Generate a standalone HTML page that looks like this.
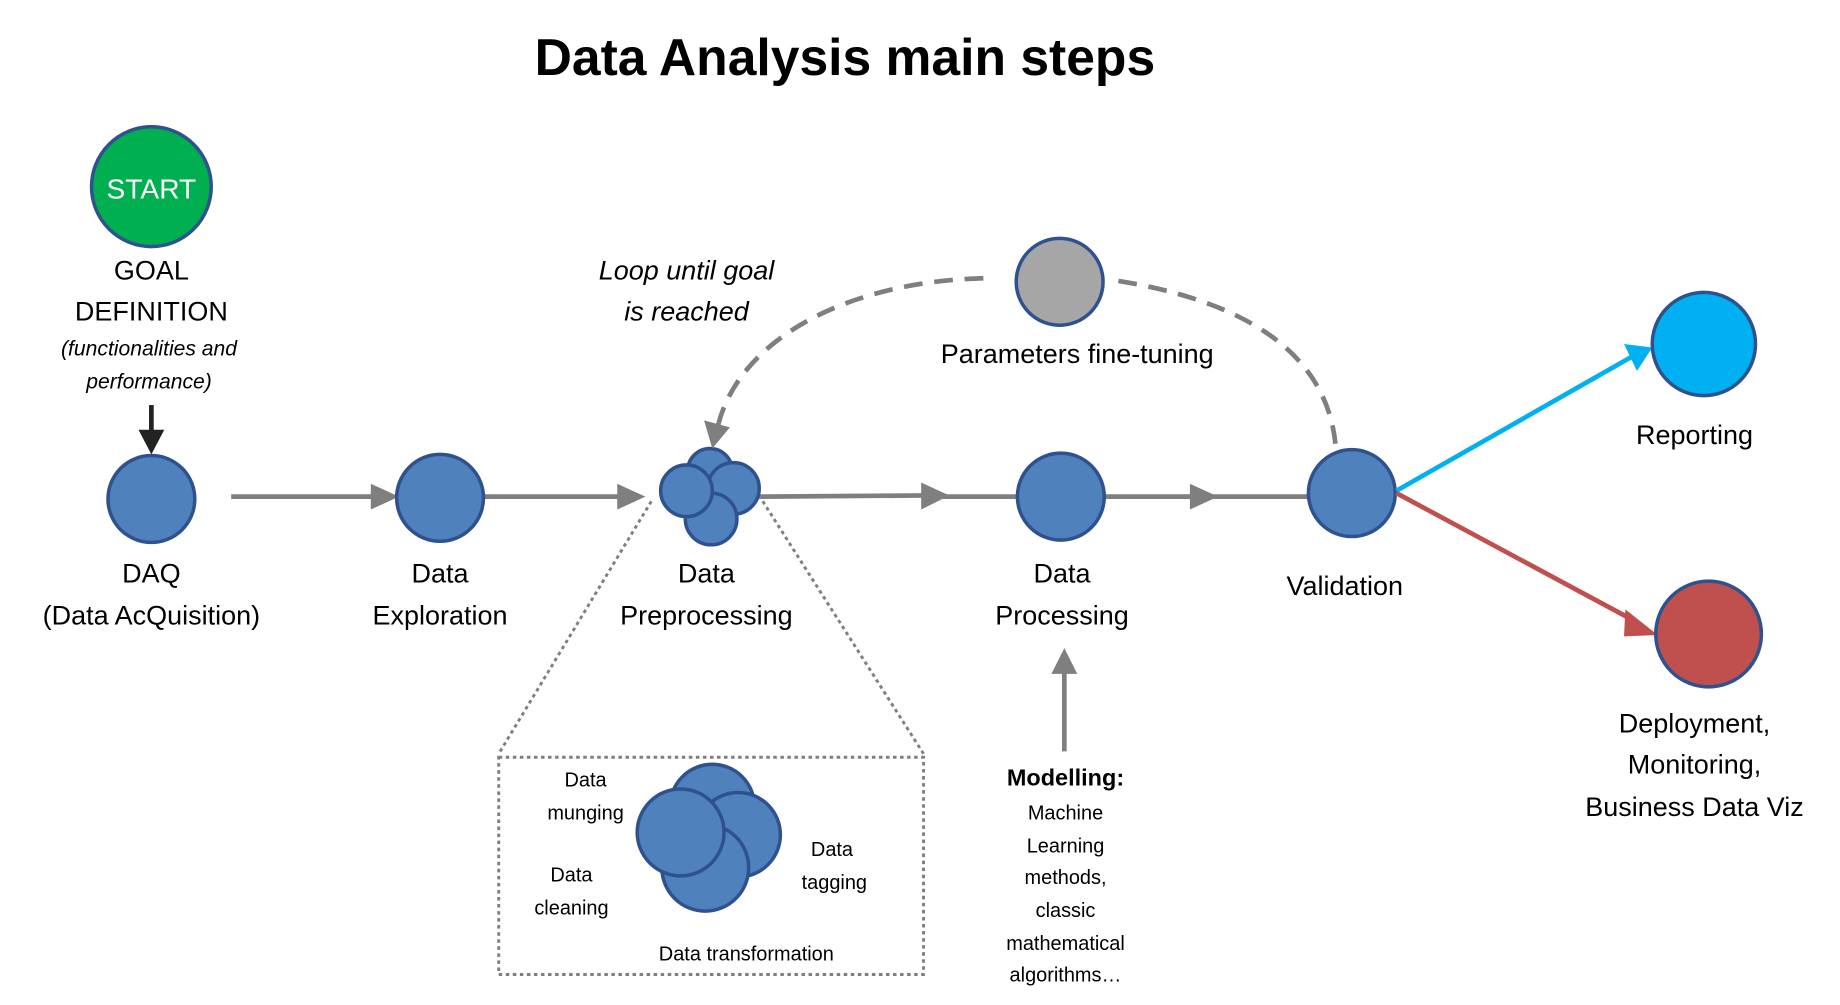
<!DOCTYPE html>
<html><head><meta charset="utf-8"><style>
html,body{margin:0;padding:0;background:#fff;}
svg{display:block;}
text{font-family:"Liberation Sans",sans-serif;fill:#000;}
</style></head><body>
<svg width="1840" height="1005" viewBox="0 0 1568 856" preserveAspectRatio="none" xmlns="http://www.w3.org/2000/svg">
<text x="720" y="64" font-size="44" font-weight="bold" text-anchor="middle">Data Analysis main steps</text>

<!-- START -->
<circle cx="129" cy="159" r="51" fill="#00b050" stroke="#2f528f" stroke-width="3"/>
<text x="129" y="169" font-size="24" text-anchor="middle" style="fill:#fff">START</text>
<text x="129" y="238" font-size="23" text-anchor="middle">GOAL</text>
<text x="129" y="273" font-size="23" text-anchor="middle">DEFINITION</text>
<text x="127" y="303" font-size="18" font-style="italic" text-anchor="middle">(functionalities and</text>
<text x="127" y="331" font-size="18" font-style="italic" text-anchor="middle">performance)</text>
<line x1="129" y1="345" x2="129" y2="370" stroke="#222" stroke-width="4"/>
<path d="M118,366 L140,366 L129,387 z" fill="#222"/>

<!-- main gray line -->
<g stroke="#7f7f7f" stroke-width="4" fill="none">
<line x1="197" y1="423" x2="320" y2="423"/>
<line x1="410" y1="423" x2="530" y2="423"/>
<line x1="645" y1="423" x2="790" y2="422"/>
<line x1="790" y1="423" x2="870" y2="423"/>
<line x1="940" y1="423" x2="1118" y2="423"/>
</g>
<g fill="#7f7f7f">
<path d="M316,412 L340,423 L316,434 z"/>
<path d="M526,412 L550,423 L526,434 z"/>
<path d="M785,411 L809,422 L785,434 z"/>
<path d="M1014,412 L1038,423 L1014,434 z"/>
</g>

<!-- nodes -->
<g fill="#4f81bd" stroke="#2f528f" stroke-width="3">
<circle cx="129" cy="425" r="37"/>
<circle cx="375" cy="424" r="37"/>
<circle cx="605" cy="401" r="19"/>
<circle cx="625" cy="416" r="22"/>
<circle cx="606" cy="442" r="22"/>
<circle cx="585" cy="418" r="22"/>
<circle cx="904" cy="423" r="37"/>
<circle cx="1152" cy="420" r="37"/>
</g>
<text x="129" y="496" font-size="23" text-anchor="middle">DAQ</text>
<text x="129" y="532" font-size="23" text-anchor="middle">(Data AcQuisition)</text>
<text x="375" y="496" font-size="23" text-anchor="middle">Data</text>
<text x="375" y="532" font-size="23" text-anchor="middle">Exploration</text>
<text x="602" y="496" font-size="23" text-anchor="middle">Data</text>
<text x="602" y="532" font-size="23" text-anchor="middle">Preprocessing</text>
<text x="905" y="496" font-size="23" text-anchor="middle">Data</text>
<text x="905" y="532" font-size="23" text-anchor="middle">Processing</text>
<text x="1146" y="507" font-size="23" text-anchor="middle">Validation</text>

<!-- reporting / deployment -->
<line x1="1190" y1="418" x2="1392" y2="303" stroke="#00b0f0" stroke-width="4"/>
<path d="M1384,293 L1408,296 L1395,316 z" fill="#00b0f0"/>
<circle cx="1452" cy="293" r="44" fill="#00b0f0" stroke="#2f528f" stroke-width="3"/>
<text x="1444" y="378" font-size="23" text-anchor="middle">Reporting</text>
<line x1="1190" y1="420" x2="1395" y2="530" stroke="#c0504d" stroke-width="4"/>
<path d="M1386,521 L1410,540 L1385,541 z" fill="#c0504d" stroke="#c0504d" stroke-width="2"/>
<circle cx="1456" cy="540" r="45" fill="#c0504d" stroke="#2f528f" stroke-width="3"/>
<text x="1444" y="624" font-size="23" text-anchor="middle">Deployment,</text>
<text x="1444" y="659" font-size="23" text-anchor="middle">Monitoring,</text>
<text x="1444" y="695" font-size="23" text-anchor="middle">Business Data Viz</text>

<!-- loop -->
<circle cx="903" cy="240" r="37" fill="#a6a6a6" stroke="#2f528f" stroke-width="3"/>
<text x="918" y="309" font-size="23" text-anchor="middle">Parameters fine-tuning</text>
<path d="M1138,378 C1130,300 1060,255 945,238" fill="none" stroke="#7f7f7f" stroke-width="4" stroke-dasharray="16,10"/>
<path d="M838,237 C720,240 630,290 612,362" fill="none" stroke="#7f7f7f" stroke-width="4" stroke-dasharray="16,10"/>
<path d="M600,358 L622,364 L607,382 z" fill="#7f7f7f"/>
<text x="585" y="238" font-size="23" font-style="italic" text-anchor="middle">Loop until goal</text>
<text x="585" y="273" font-size="23" font-style="italic" text-anchor="middle">is reached</text>

<!-- zoom box -->
<g stroke="#7f7f7f" stroke-width="2.5" stroke-dasharray="3,3" fill="none">
<line x1="555" y1="427" x2="425" y2="642"/>
<line x1="650" y1="427" x2="787" y2="642"/>
<rect x="425" y="645" width="362" height="185"/>
</g>
<g fill="#4f81bd" stroke="#2f528f" stroke-width="3">
<circle cx="607" cy="687" r="36"/>
<circle cx="629" cy="711" r="36"/>
<circle cx="601" cy="739" r="37"/>
<circle cx="580" cy="709" r="37"/>
</g>
<g font-size="17" text-anchor="middle">
<text x="499" y="670">Data</text>
<text x="499" y="698">munging</text>
<text x="487" y="751">Data</text>
<text x="487" y="779">cleaning</text>
<text x="709" y="729">Data</text>
<text x="711" y="757">tagging</text>
<text x="636" y="818">Data transformation</text>
</g>

<!-- modelling -->
<line x1="907" y1="640" x2="907" y2="572" stroke="#7f7f7f" stroke-width="4"/>
<path d="M896,574 L907,552 L918,574 z" fill="#7f7f7f"/>
<text x="908" y="669" font-size="20" font-weight="bold" text-anchor="middle">Modelling:</text>
<g font-size="17" text-anchor="middle">
<text x="908" y="698">Machine</text>
<text x="908" y="726">Learning</text>
<text x="908" y="753">methods,</text>
<text x="908" y="781">classic</text>
<text x="908" y="809">mathematical</text>
<text x="908" y="836">algorithms…</text>
</g>
</svg>
</body></html>
